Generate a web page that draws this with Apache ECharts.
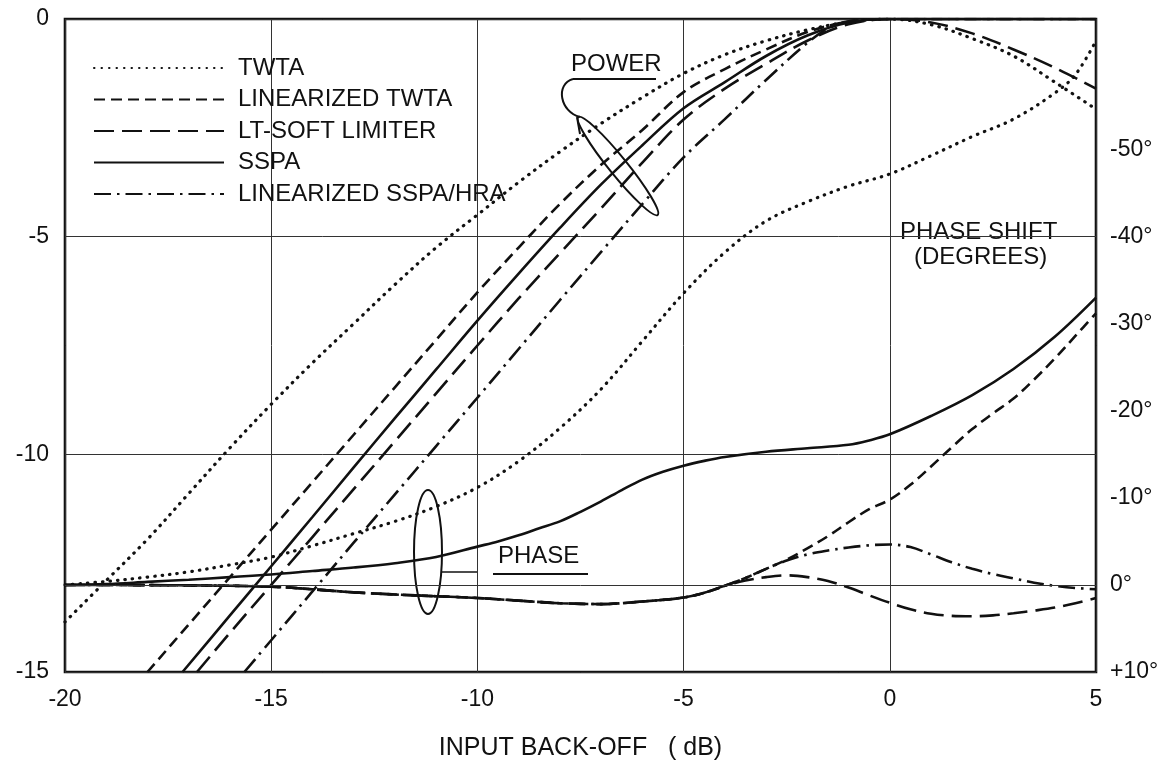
<!DOCTYPE html>
<html><head><meta charset="utf-8">
<script src="https://cdn.jsdelivr.net/npm/echarts@6/dist/echarts.min.js"></script>
<style>html,body{margin:0;padding:0;background:#fff}#c{width:1170px;height:776px}</style>
</head><body><div id="c"></div>
<script>
// ---------- axis ticks ----------
const xTicks = [-20, -15, -10, -5, 0, 5];
const powerTicks = [0, -5, -10, -15];
const phaseTickLabels = [-50, -40, -30, -20, -10, 0, 10];

// ---------- legend / series names ----------
const names = ['TWTA', 'LINEARIZED TWTA', 'LT-SOFT LIMITER', 'SSPA', 'LINEARIZED SSPA/HRA'];

// ---------- POWER (output, dB) vs input back-off (dB) ----------
const twtaPowerX = [-20,-19,-18,-17,-16,-15,-14,-13,-12,-11,-10,-9,-8,-7,-6,-5,-4,-3,-2,-1,0,1,2,3,4,5];
const twtaPowerY = [-13.85,-12.9,-11.95,-10.9,-9.85,-8.85,-7.9,-7.0,-6.1,-5.25,-4.5,-3.75,-3.05,-2.4,-1.8,-1.25,-0.82,-0.5,-0.25,-0.07,0,-0.13,-0.45,-0.85,-1.45,-2.07];

const linTwtaPowerX = [-18,-17,-16,-15,-14,-13,-12,-11,-10,-9,-8,-7,-6,-5,-4,-3,-2,-1,0,5];
const linTwtaPowerY = [-15,-13.91,-12.82,-11.73,-10.64,-9.55,-8.46,-7.37,-6.28,-5.25,-4.25,-3.35,-2.55,-1.68,-1.15,-0.7,-0.3,-0.06,0,0];

const softLimPowerX = [-16.8,-16,-15,-14,-13,-12,-11,-10,-9,-8,-7,-6,-5,-4,-3,-2,-1,0,1,2,3,4,5];
const softLimPowerY = [-15,-14.1,-13.0,-11.9,-10.8,-9.7,-8.6,-7.5,-6.42,-5.38,-4.35,-3.3,-2.31,-1.6,-1.03,-0.5,-0.12,0,-0.08,-0.33,-0.7,-1.12,-1.6];

const sspaPowerX = [-17.15,-16,-15,-14,-13,-12,-11,-10,-9,-8,-7,-6,-5,-4,-3,-2,-1,0,5];
const sspaPowerY = [-15,-13.7,-12.57,-11.44,-10.3,-9.17,-8.05,-6.93,-5.85,-4.8,-3.8,-2.9,-2.05,-1.45,-0.85,-0.38,-0.08,0,0];

const linSspaPowerX = [-15.65,-15,-14,-13,-12,-11,-10,-9,-8,-7,-6,-5,-4,-3,-2,-1.5,-1,0,5];
const linSspaPowerY = [-15,-14.27,-13.15,-12.03,-10.92,-9.81,-8.7,-7.58,-6.46,-5.35,-4.25,-3.18,-2.3,-1.4,-0.55,-0.22,-0.05,0,0];

// ---------- PHASE SHIFT (degrees) vs input back-off (dB) ----------
const twtaPhaseX = [-20,-19,-18,-17,-16,-15,-14,-13,-12,-11,-10,-9,-8,-7,-6,-5,-4,-3,-2,-1,0,1,2,3,4,4.5,5];
const twtaPhaseY = [0,-0.4,-0.9,-1.5,-2.3,-3.2,-4.5,-5.9,-7.3,-9.0,-11.2,-14.2,-18.0,-22.5,-28.0,-33.5,-38.2,-41.8,-44.0,-45.8,-47.2,-49.3,-51.5,-53.5,-56.5,-58.6,-62.5];

const sspaPhaseX = [-20,-19,-18,-17,-16,-15,-14,-13,-12,-11,-10,-9.5,-9,-8.5,-8,-7.5,-7,-6.5,-6,-5.5,-5,-4.5,-4,-3,-2,-1,-0.5,0,1,2,3,4,5];
const sspaPhaseY = [0,-0.1,-0.35,-0.6,-0.9,-1.2,-1.6,-2.0,-2.5,-3.2,-4.4,-5.0,-5.7,-6.5,-7.3,-8.4,-9.6,-10.9,-12.1,-13.0,-13.7,-14.25,-14.7,-15.3,-15.7,-16.1,-16.6,-17.3,-19.4,-21.8,-24.8,-28.5,-33.0];

// shared low-drive phase of the three linearized / limiter devices
const commonPhaseX = [-20,-17,-15,-14,-13,-12,-11,-10,-9,-8,-7,-6,-5,-4.5,-4];
const commonPhaseY = [0,0.05,0.2,0.5,0.85,1.1,1.3,1.5,1.8,2.1,2.2,1.9,1.45,0.9,0.1];

const tailPhaseX = [-3.5,-3,-2.5,-2,-1.5,-1,-0.5,0,0.5,1,1.5,2,2.5,3,3.5,4,4.5,5];
const linTwtaPhaseTailY = [-0.8,-1.85,-2.9,-4.2,-5.6,-7.2,-8.7,-9.8,-11.5,-13.6,-15.8,-17.9,-19.7,-21.4,-23.6,-26.0,-28.6,-31.2];
const softLimPhaseTailY = [-0.5,-0.9,-1.1,-0.9,-0.45,0.3,1.2,2.05,2.8,3.3,3.55,3.6,3.5,3.25,2.95,2.6,2.1,1.5];
const linSspaPhaseTailY = [-0.8,-1.85,-2.8,-3.5,-3.95,-4.3,-4.55,-4.65,-4.35,-3.5,-2.6,-1.85,-1.25,-0.75,-0.25,0.1,0.35,0.5];

// ---------- helpers ----------
const zip = (xs, ys) => xs.map((x, i) => [x, ys[i]]);
const withTail = (ys) => zip(commonPhaseX.concat(tailPhaseX), commonPhaseY.concat(ys));

const INK = '#111';
const W = 2.6;
const styles = {
  'TWTA': { type: [0.5, 7], cap: 'round', width: 3.2 },
  'LINEARIZED TWTA': { type: [11, 6], width: W },
  'LT-SOFT LIMITER': { type: [20, 8], width: W },
  'SSPA': { type: 'solid', width: W },
  'LINEARIZED SSPA/HRA': { type: [17, 6, 2.5, 6], width: W }
};
function mk(name, data, axis, extra) {
  return Object.assign({
    name, type: 'line', data, yAxisIndex: axis, smooth: 0.35, showSymbol: false, symbol: 'none',
    silent: true, z: 3,
    lineStyle: Object.assign({ color: INK }, styles[name]),
    itemStyle: { color: INK }
  }, extra || {});
}

const FONT = 'Liberation Sans, Arial, sans-serif';

const series = [
  mk('TWTA', zip(twtaPowerX, twtaPowerY), 0),
  mk('LINEARIZED TWTA', zip(linTwtaPowerX, linTwtaPowerY), 0),
  mk('LT-SOFT LIMITER', zip(softLimPowerX, softLimPowerY), 0),
  mk('SSPA', zip(sspaPowerX, sspaPowerY), 0),
  mk('LINEARIZED SSPA/HRA', zip(linSspaPowerX, linSspaPowerY), 0),
  mk('TWTA', zip(twtaPhaseX, twtaPhaseY), 1),
  mk('SSPA', zip(sspaPhaseX, sspaPhaseY), 1, {
    markLine: { silent: true, symbol: 'none', label: { show: false },
      lineStyle: { color: '#333', width: 1, type: 'solid' }, data: [{ yAxis: 0 }] }
  }),
  mk('LINEARIZED SSPA/HRA', withTail(linSspaPhaseTailY), 1),
  mk('LT-SOFT LIMITER', withTail(softLimPhaseTailY), 1),
  mk('LINEARIZED TWTA', withTail(linTwtaPhaseTailY), 1)
];

const chart = echarts.init(document.getElementById('c'), null, { renderer: 'canvas' });
chart.setOption({
  animation: false,
  backgroundColor: '#fff',
  textStyle: { fontFamily: FONT, color: INK },
  grid: { left: 65, right: 74, top: 19, bottom: 104, show: true, borderColor: INK, borderWidth: 2.6, backgroundColor: 'transparent' },
  legend: {
    data: names, orient: 'vertical', left: 88, top: 51, itemWidth: 130, itemHeight: 14, itemGap: 7.5,
    selectedMode: false,
    itemStyle: { opacity: 0 },
    textStyle: { fontFamily: FONT, fontSize: 24, color: INK, lineHeight: 24, padding: [0, 0, 0, 9] }
  },
  xAxis: {
    type: 'value', min: -20, max: 5, interval: 5,
    axisLine: { show: false }, axisTick: { show: false },
    axisLabel: { fontSize: 23, color: INK, margin: 16, fontFamily: FONT,
      formatter: v => xTicks.includes(v) ? String(v) : '' },
    splitLine: { show: true, lineStyle: { color: '#333', width: 1 } },
    name: 'INPUT BACK-OFF   ( dB)', nameLocation: 'middle', nameGap: 64,
    nameTextStyle: { fontSize: 25, color: INK, fontFamily: FONT }
  },
  yAxis: [{
    type: 'value', min: -15, max: 0, interval: 5,
    axisLine: { show: false }, axisTick: { show: false },
    axisLabel: { fontSize: 23, color: INK, margin: 16, fontFamily: FONT,
      formatter: v => powerTicks.includes(v) ? String(v) : '' },
    splitLine: { show: true, lineStyle: { color: '#333', width: 1 } }
  }, {
    type: 'value', min: -65, max: 10, interval: 5, inverse: true, position: 'right',
    axisLine: { show: false }, axisTick: { show: false }, splitLine: { show: false },
    axisLabel: { fontSize: 23, color: INK, margin: 14, fontFamily: FONT,
      formatter: v => phaseTickLabels.includes(v) ? ((v > 0 ? '+' : '') + v + '°') : '' }
  }],
  graphic: [
    // POWER label
    { type: 'text', left: 571, top: 52, style: { text: 'POWER', fontSize: 24, fontFamily: FONT, fill: INK } },
    { type: 'line', shape: { x1: 573, y1: 79, x2: 656, y2: 79 }, style: { stroke: INK, lineWidth: 2 } },
    { type: 'bezierCurve', shape: { x1: 573, y1: 79, cpx1: 555, cpy1: 84, cpx2: 560, cpy2: 112, x2: 580, y2: 117 }, style: { stroke: INK, lineWidth: 2, fill: null } },
    { type: 'line', shape: { x1: 577, y1: 117, x2: 580, y2: 134 }, style: { stroke: INK, lineWidth: 2 } },
    { type: 'ellipse', x: 618, y: 166, rotation: -51 * Math.PI / 180, shape: { cx: 0, cy: 0, rx: 63, ry: 9 }, style: { stroke: INK, lineWidth: 2, fill: null } },
    // PHASE label
    { type: 'text', left: 498, top: 544, style: { text: 'PHASE', fontSize: 24, fontFamily: FONT, fill: INK } },
    { type: 'line', shape: { x1: 493, y1: 574, x2: 588, y2: 574 }, style: { stroke: INK, lineWidth: 2 } },
    { type: 'line', shape: { x1: 441, y1: 572, x2: 477, y2: 572 }, style: { stroke: INK, lineWidth: 1.5 } },
    { type: 'ellipse', shape: { cx: 428, cy: 552, rx: 14, ry: 62 }, style: { stroke: INK, lineWidth: 2, fill: null } },
    // PHASE SHIFT (DEGREES)
    { type: 'text', left: 900, top: 220, style: { text: 'PHASE SHIFT', fontSize: 24, fontFamily: FONT, fill: INK } },
    { type: 'text', left: 914, top: 245, style: { text: '(DEGREES)', fontSize: 24, fontFamily: FONT, fill: INK } }
  ],
  series
});
</script>
</body></html>
